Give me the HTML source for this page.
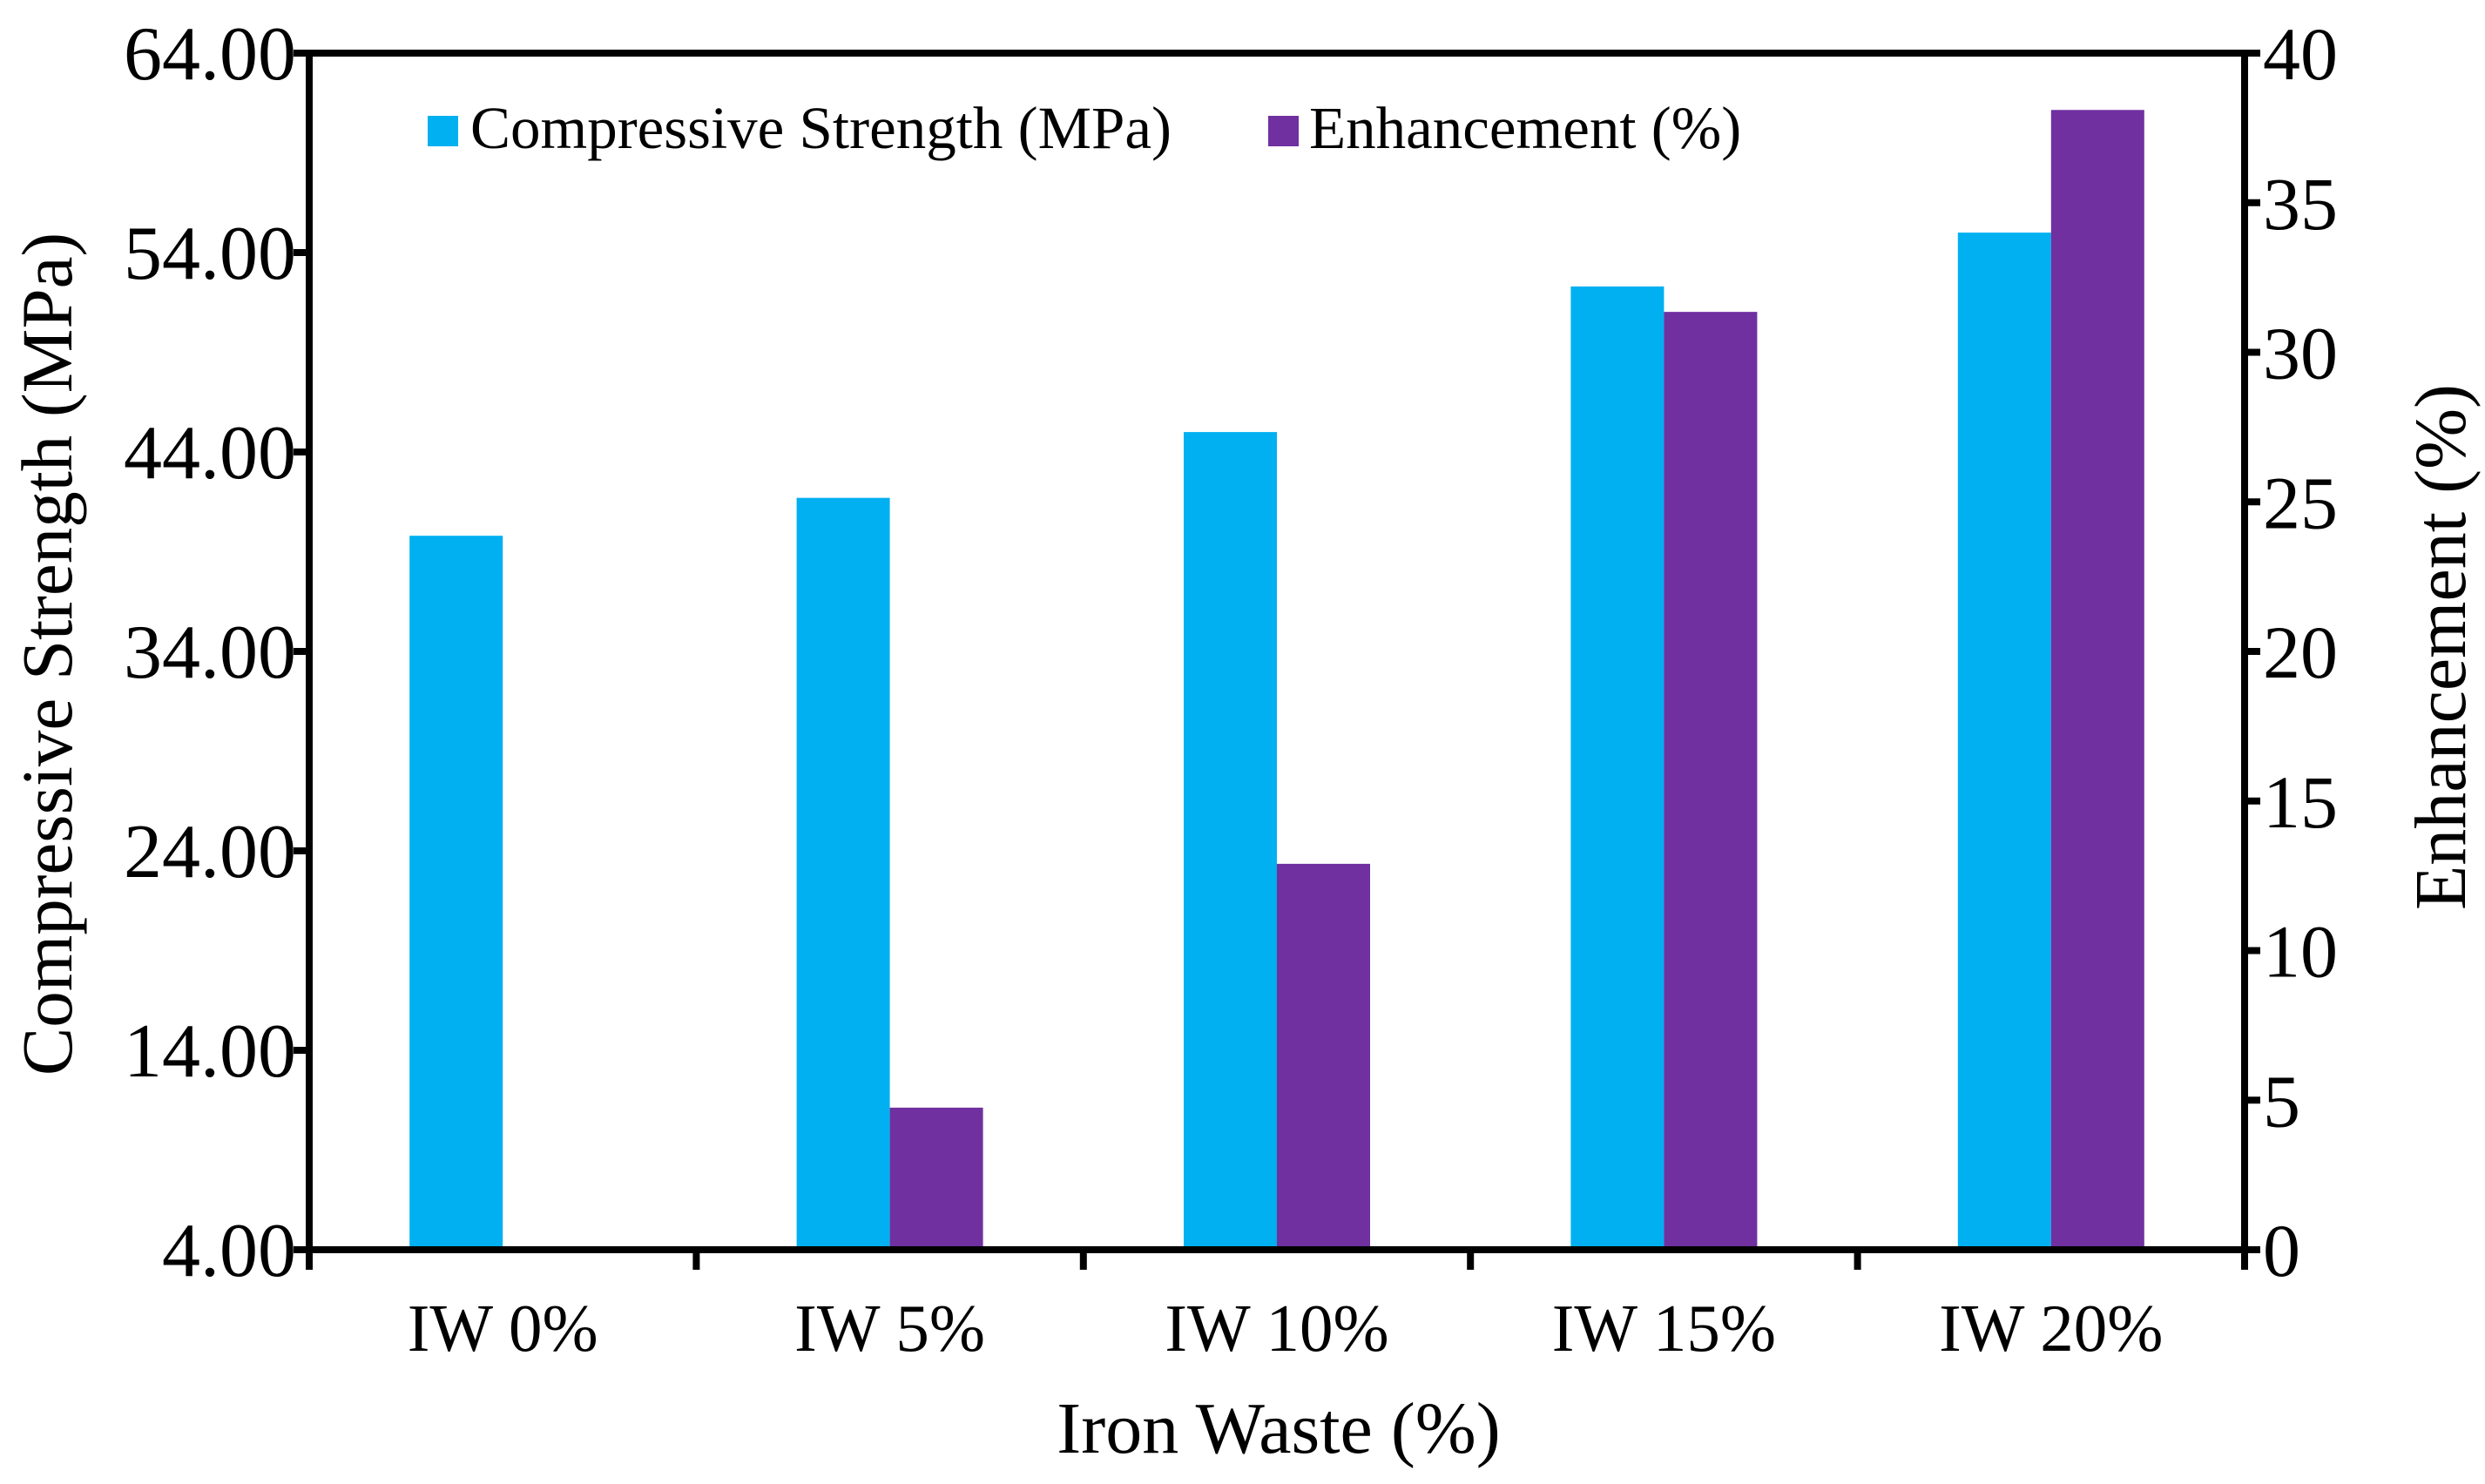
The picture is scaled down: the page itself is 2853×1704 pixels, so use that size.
<!DOCTYPE html>
<html><head><meta charset="utf-8"><style>
html,body{margin:0;padding:0;background:#fff;}
svg text{font-family:"Liberation Serif",serif;fill:#000;}
</style></head><body>
<svg id="chart" width="2853" height="1699" viewBox="0 0 2853 1699" xmlns="http://www.w3.org/2000/svg">
<g id="bars"></g>
<g id="axes"></g>
<g>
<rect x="491" y="133" width="35" height="35" fill="#00b0f0"/>
<text x="540" y="170" font-size="69">Compressive Strength (MPa)</text>
<rect x="1456" y="133" width="35" height="35" fill="#7030a0"/>
<text x="1503" y="170" font-size="69">Enhancement (%)</text>
</g>
<text x="1468" y="1668" font-size="84" text-anchor="middle">Iron Waste (%)</text>
<text transform="translate(82,751) rotate(-90)" font-size="83" text-anchor="middle">Compressive Strength (MPa)</text>
<text transform="translate(2830,743) rotate(-90)" font-size="84" text-anchor="middle">Enhancement (%)</text>
</svg>
<script>
const categories = ["IW 0%","IW 5%","IW 10%","IW 15%","IW 20%"];
const strength = [39.8, 41.7, 45.0, 52.3, 55.0];
const enhancement = [0, 4.75, 12.9, 31.35, 38.1];
const leftTicks = ["4.00","14.00","24.00","34.00","44.00","54.00","64.00"];
const rightTicks = ["0","5","10","15","20","25","30","35","40"];

const NS = "http://www.w3.org/2000/svg";
const X0 = 355, X1 = 2577, Y0 = 1435, Y1 = 61;
const yL = v => Y0 - (v - 4) / 60 * (Y0 - Y1);
const yR = v => Y0 - v / 40 * (Y0 - Y1);
const bandW = (X1 - X0) / categories.length;
const xC = i => X0 + bandW * (i + 0.5);
const barW = 107;
function mk(tag, attrs, parent){const e=document.createElementNS(NS,tag);for(const k in attrs)e.setAttribute(k,attrs[k]);parent.appendChild(e);return e;}
const bars = document.getElementById("bars");
const axes = document.getElementById("axes");
categories.forEach((c,i)=>{
  const t = yL(strength[i]);
  const r = mk("rect",{x:xC(i)-barW,y:t,width:barW,height:Y0-t,fill:"#00b0f0"},bars);
  
  
  const t2 = yR(enhancement[i]);
  const r2 = mk("rect",{x:xC(i),y:t2,width:barW,height:Math.max(0,Y0-t2),fill:"#7030a0"},bars);
  
  
  const lb = mk("text",{x:xC(i),y:1551,"font-size":77,"text-anchor":"middle"},axes);
  lb.textContent = c;
  
  
});
const frame = mk("rect",{x:X0,y:Y1,width:X1-X0,height:Y0-Y1,fill:"none",stroke:"#000","stroke-width":8},axes);


for(let i=0;i<=categories.length;i++){
  const x = X0 + bandW*i;
  const tk = mk("line",{x1:x,x2:x,y1:Y0,y2:Y0+23,stroke:"#000","stroke-width":8},axes);
  
  
}
leftTicks.forEach(s=>{
  const y = yL(parseFloat(s));
  const tk = mk("line",{x1:X0-18,x2:X0,y1:y,y2:y,stroke:"#000","stroke-width":8},axes);
  
  
  const t = mk("text",{x:340,y:y+30,"font-size":88,"text-anchor":"end"},axes);
  t.textContent = s;
  
  
});
rightTicks.forEach(s=>{
  const y = yR(parseFloat(s));
  const tk = mk("line",{x1:X1,x2:X1+18,y1:y,y2:y,stroke:"#000","stroke-width":8},axes);
  
  
  const t = mk("text",{x:2598,y:y+30,"font-size":86},axes);
  t.textContent = s;
  
  
});
</script>
</body></html>
